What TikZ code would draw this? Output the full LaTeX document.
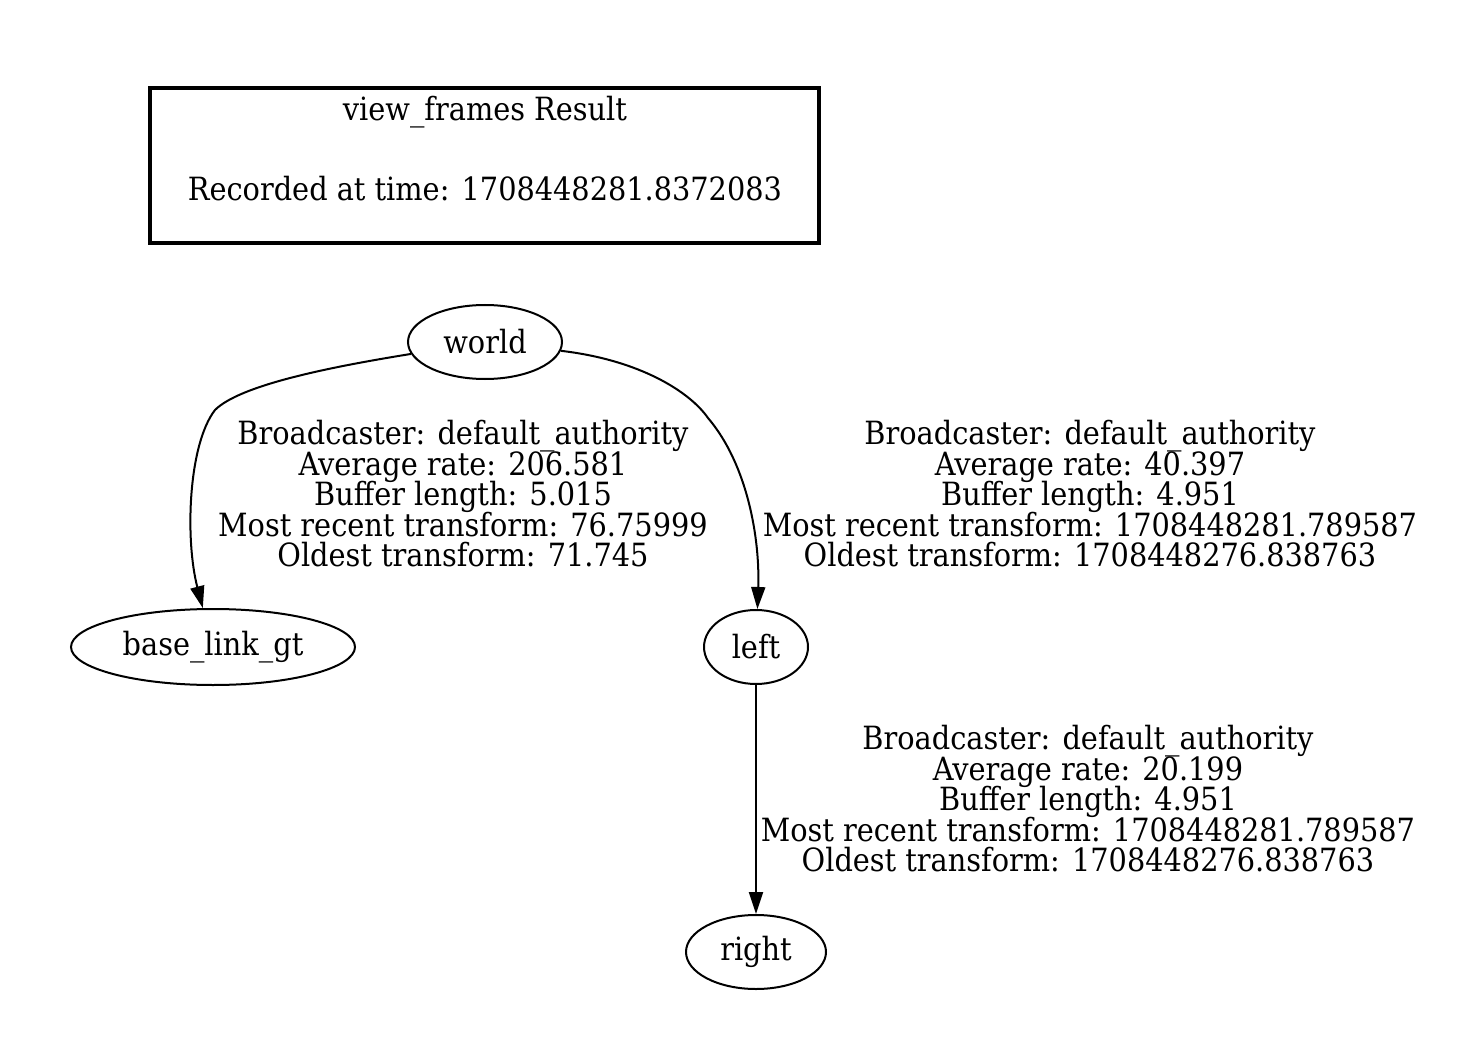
\documentclass[tikz,border=0pt]{standalone}
\usepackage{fontspec}
\setmainfont{DejaVu Serif Condensed}
\usetikzlibrary{shapes.geometric,arrows.meta}
\newcommand\mylblfont{\fontsize{16}{15.25}\selectfont\lineskiplimit=-100pt\relax\lineskip=0pt\relax}
\begin{document}
\begin{tikzpicture}[x=0.5pt,y=-0.5pt,
  every node/.style={font=\mylblfont},
  frame/.style={ellipse,draw,line width=1pt,inner sep=0pt},
  lbl/.style={align=center,inner sep=0pt},
  edge/.style={draw,line width=1pt,-{Triangle[length=11pt,width=7pt]}}]
\useasboundingbox (0,0) rectangle (1478,1048);
\node[draw,line width=2pt,minimum width=334.5pt,minimum height=77.5pt] (legend) at (484.5,165.5) {};
\node (t1) at (485,112) {view\_frames Result};
\node (t2) at (485,189) {Recorded at time: 1708448281.8372083};
\node[frame,minimum width=77pt,minimum height=37pt] (world) at (485,342) {world};
\node[frame,minimum width=142pt,minimum height=38pt] (base) at (213,647) {base\_link\_gt};
\node[frame,minimum width=52pt,minimum height=37pt] (left) at (756,647) {left};
\node[frame,minimum width=70pt,minimum height=37pt] (right) at (756,952) {right};
\coordinate (m1) at (215,410);
\coordinate (m2) at (708,418);
\draw[edge] (world) .. controls (330,367) and (240,385) .. (m1) .. controls (188,445) and (185,540) .. (base);
\draw[edge] (world) .. controls (640,360) and (690,392) .. (m2) .. controls (748,465) and (760,540) .. (left);
\draw[edge] (left) -- (right);
\node[lbl] (l1) at (463,494) {Broadcaster: default\_authority\\Average rate: 206.581\\Buffer length: 5.015\\Most recent transform: 76.75999\\Oldest transform: 71.745};
\node[lbl] (l2) at (1090,494) {Broadcaster: default\_authority\\Average rate: 40.397\\Buffer length: 4.951\\Most recent transform: 1708448281.789587\\Oldest transform: 1708448276.838763};
\node[lbl] (l3) at (1088,799) {Broadcaster: default\_authority\\Average rate: 20.199\\Buffer length: 4.951\\Most recent transform: 1708448281.789587\\Oldest transform: 1708448276.838763};
\end{tikzpicture}
\end{document}
